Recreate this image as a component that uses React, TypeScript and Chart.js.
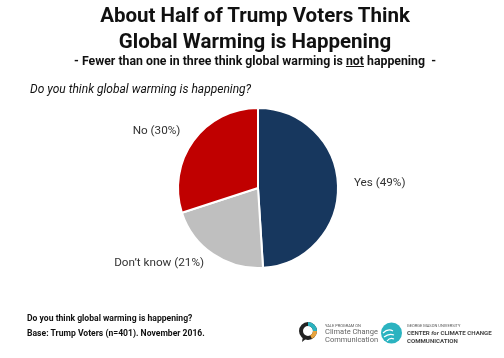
import React, { useEffect, useRef } from "react";
import { Chart, registerables } from "chart.js";

Chart.register(...registerables);

const categories = ["Yes", "Don\u2019t know", "No"];
const values = [49, 21, 30];
const colors = ["#17375e", "#bfbfbf", "#c00000"];

const labelPlugin = {
  id: "sliceLabels",
  afterDraw(chart: any) {
    const meta = chart.getDatasetMeta(0);
    const ctx = chart.ctx;
    ctx.save();
    ctx.font = "11.7px Roboto";
    ctx.fillStyle = "#333";
    ctx.textBaseline = "middle";
    meta.data.forEach((arc: any, i: number) => {
      const mid = (arc.startAngle + arc.endAngle) / 2;
      const x = arc.x + Math.cos(mid) * arc.outerRadius * 1.2;
      const y = arc.y + Math.sin(mid) * arc.outerRadius * 1.16 - 2;
      ctx.textAlign = Math.cos(mid) >= 0 ? "left" : "right";
      ctx.fillText(`${categories[i]} (${values[i]}%)`, x, y);
    });
    ctx.restore();
  },
};

export default function App() {
  const ref = useRef<HTMLCanvasElement>(null);
  useEffect(() => {
    const chart = new Chart(ref.current!, {
      type: "pie",
      data: {
        labels: categories,
        datasets: [
          {
            data: values,
            backgroundColor: colors,
            borderColor: "#ffffff",
            borderWidth: 2,
          },
        ],
      },
      options: {
        animation: false,
        responsive: false,
        layout: { padding: { left: 177, right: 165, top: 107, bottom: 89 } },
        plugins: { legend: { display: false }, tooltip: { enabled: false } },
      },
      plugins: [labelPlugin],
    });
    return () => chart.destroy();
  }, []);

  const abs = (s: React.CSSProperties): React.CSSProperties => ({
    position: "absolute",
    whiteSpace: "nowrap",
    fontFamily: "Roboto, sans-serif",
    color: "#111",
    margin: 0,
    ...s,
  });

  return (
    <div style={{ position: "absolute", left: 0, top: 0, width: 504, height: 358, background: "#fff", overflow: "hidden" }}>
      <canvas ref={ref} width={504} height={358} style={{ position: "absolute", left: 0, top: 0 }} />
      <div style={abs({ left: 0, width: 510, top: 2, textAlign: "center", fontSize: 20.5, fontWeight: 700, lineHeight: "26px" })}>
        About Half of Trump Voters Think
        <br />
        Global Warming is Happening
      </div>
      <div style={abs({ left: 0, width: 510, top: 54, textAlign: "center", fontSize: 12.3, fontWeight: 700, lineHeight: "14px" })}>
        - Fewer than one in three think global warming is <u>not</u> happening&nbsp; -
      </div>
      <div style={abs({ left: 30, top: 82, fontSize: 12, fontStyle: "italic", lineHeight: "14px" })}>
        Do you think global warming is happening?
      </div>
      <div style={abs({ left: 27, top: 311, fontSize: 8.6, fontWeight: 700, lineHeight: "15px" })}>
        Do you think global warming is happening?
        <br />
        Base: Trump Voters (n=401). November 2016.
      </div>
      <svg style={{ position: "absolute", left: 298, top: 321 }} width={22} height={24}>
        <circle cx={10} cy={10} r={7} fill="none" stroke="#222" strokeWidth={4} />
        <path d="M10 3 A7 7 0 0 1 17 10" fill="none" stroke="#2bb3c0" strokeWidth={4} />
        <path d="M17 10 A7 7 0 0 1 13 16" fill="none" stroke="#e8a33d" strokeWidth={4} />
        <path d="M5 15 L4 21 L9 17 Z" fill="#222" />
      </svg>
      <div style={abs({ left: 325, top: 323, fontSize: 4, color: "#555", lineHeight: "5px" })}>YALE PROGRAM ON</div>
      <div style={abs({ left: 325, top: 328, fontSize: 7.5, color: "#666", lineHeight: "7.5px" })}>
        Climate Change
        <br />
        Communication
      </div>
      <svg style={{ position: "absolute", left: 380, top: 322 }} width={24} height={24}>
        <circle cx={11.5} cy={11} r={10.5} fill="#2bb3c0" />
        <path d="M3 11 Q8 6 13 9 M4 15 Q9 11 14 13 M7 19 Q10 15 14 17" fill="none" stroke="#fff" strokeWidth={1.2} />
      </svg>
      <div style={abs({ left: 407, top: 323, fontSize: 4, color: "#555", lineHeight: "5px" })}>GEORGE MASON UNIVERSITY</div>
      <div style={abs({ left: 407, top: 329, fontSize: 6.1, color: "#444", fontWeight: 700, lineHeight: "8px" })}>
        CENTER <i>for</i> CLIMATE CHANGE
        <br />
        COMMUNICATION
      </div>
    </div>
  );
}
